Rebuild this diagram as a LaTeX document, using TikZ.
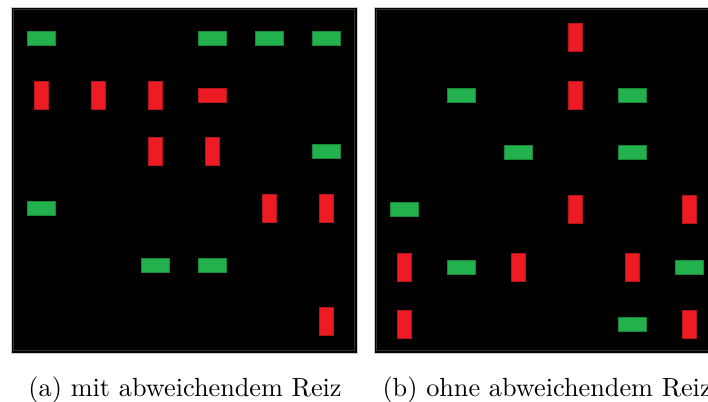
\documentclass[tikz,border=0pt]{standalone}
\usepackage{tikz}
\definecolor{grn}{HTML}{22B14C}
\definecolor{rd}{HTML}{ED1C24}
\begin{document}
\begin{tikzpicture}[x=0.4pt,y=-0.4pt,
  gbar/.style={draw=grn!75!black, fill=grn, line width=0.4pt, inner sep=0pt, outer sep=0pt, minimum width=11.2pt, minimum height=5.6pt},
  rbar/.style={draw=rd!75!black, fill=rd, line width=0.4pt, inner sep=0pt, outer sep=0pt, minimum width=5.6pt, minimum height=11.2pt},
  rhbar/.style={draw=rd!75!black, fill=rd, line width=0.4pt, inner sep=0pt, outer sep=0pt, minimum width=11.2pt, minimum height=5.6pt},
  panelbg/.style={fill=black, draw=gray!40, line width=0.4pt},
  panelin/.style={draw=gray!40!black, line width=0.5pt},
  captxt/.style={anchor=base west, inner sep=0pt, font=\fontsize{10.5}{12}\selectfont}]
\useasboundingbox (0,0) rectangle (708,401);
\fill[white] (0,0) rectangle (708,401);
% panels
\path[panelbg] (11,7) rectangle (357,353);
\path[panelin] (13.5,9.5) rectangle (354.5,350.5);
\path[panelbg] (374,7) rectangle (720,353);
\path[panelin] (376.5,9.5) rectangle (717.5,350.5);
% left panel
\node[gbar] (l11) at (41.5,38) {};
\node[gbar] (l14) at (212.5,38) {};
\node[gbar] (l15) at (269.5,38) {};
\node[gbar] (l16) at (326.5,38) {};
\node[rbar] (l21) at (41.5,95) {};
\node[rbar] (l22) at (98.5,95) {};
\node[rbar] (l23) at (155.5,95) {};
\node[rhbar] (l24) at (212.5,95) {};
\node[rbar] (l33) at (155.5,151.5) {};
\node[rbar] (l34) at (212.5,151.5) {};
\node[gbar] (l36) at (326.5,151.5) {};
\node[gbar] (l41) at (41.5,208.3) {};
\node[rbar] (l45) at (269.5,208.3) {};
\node[rbar] (l46) at (326.5,208.3) {};
\node[gbar] (l53) at (155.5,265) {};
\node[gbar] (l54) at (212.5,265) {};
\node[rbar] (l66) at (326.5,321.8) {};
% right panel
\node[rbar] (r14) at (575,37.7) {};
\node[gbar] (r22) at (461,95.1) {};
\node[rbar] (r24) at (575,95.1) {};
\node[gbar] (r25) at (632,95.1) {};
\node[gbar] (r33) at (518,152.5) {};
\node[gbar] (r35) at (632,152.5) {};
\node[gbar] (r41) at (404,209.9) {};
\node[rbar] (r44) at (575,209.9) {};
\node[rbar] (r46) at (689,209.9) {};
\node[rbar] (r51) at (404,267.3) {};
\node[gbar] (r52) at (461,267.3) {};
\node[rbar] (r53) at (518,267.3) {};
\node[rbar] (r55) at (632,267.3) {};
\node[gbar] (r56) at (689,267.3) {};
\node[rbar] (r61) at (404,324.7) {};
\node[gbar] (r65) at (632,324.7) {};
\node[rbar] (r66) at (689,324.7) {};
% captions
\node[captxt] (capa) at (28,396) {(a) mit abweichendem Reiz};
\node[captxt] (capb) at (382,396) {(b) ohne abweichendem Reiz};
\end{tikzpicture}
\end{document}
